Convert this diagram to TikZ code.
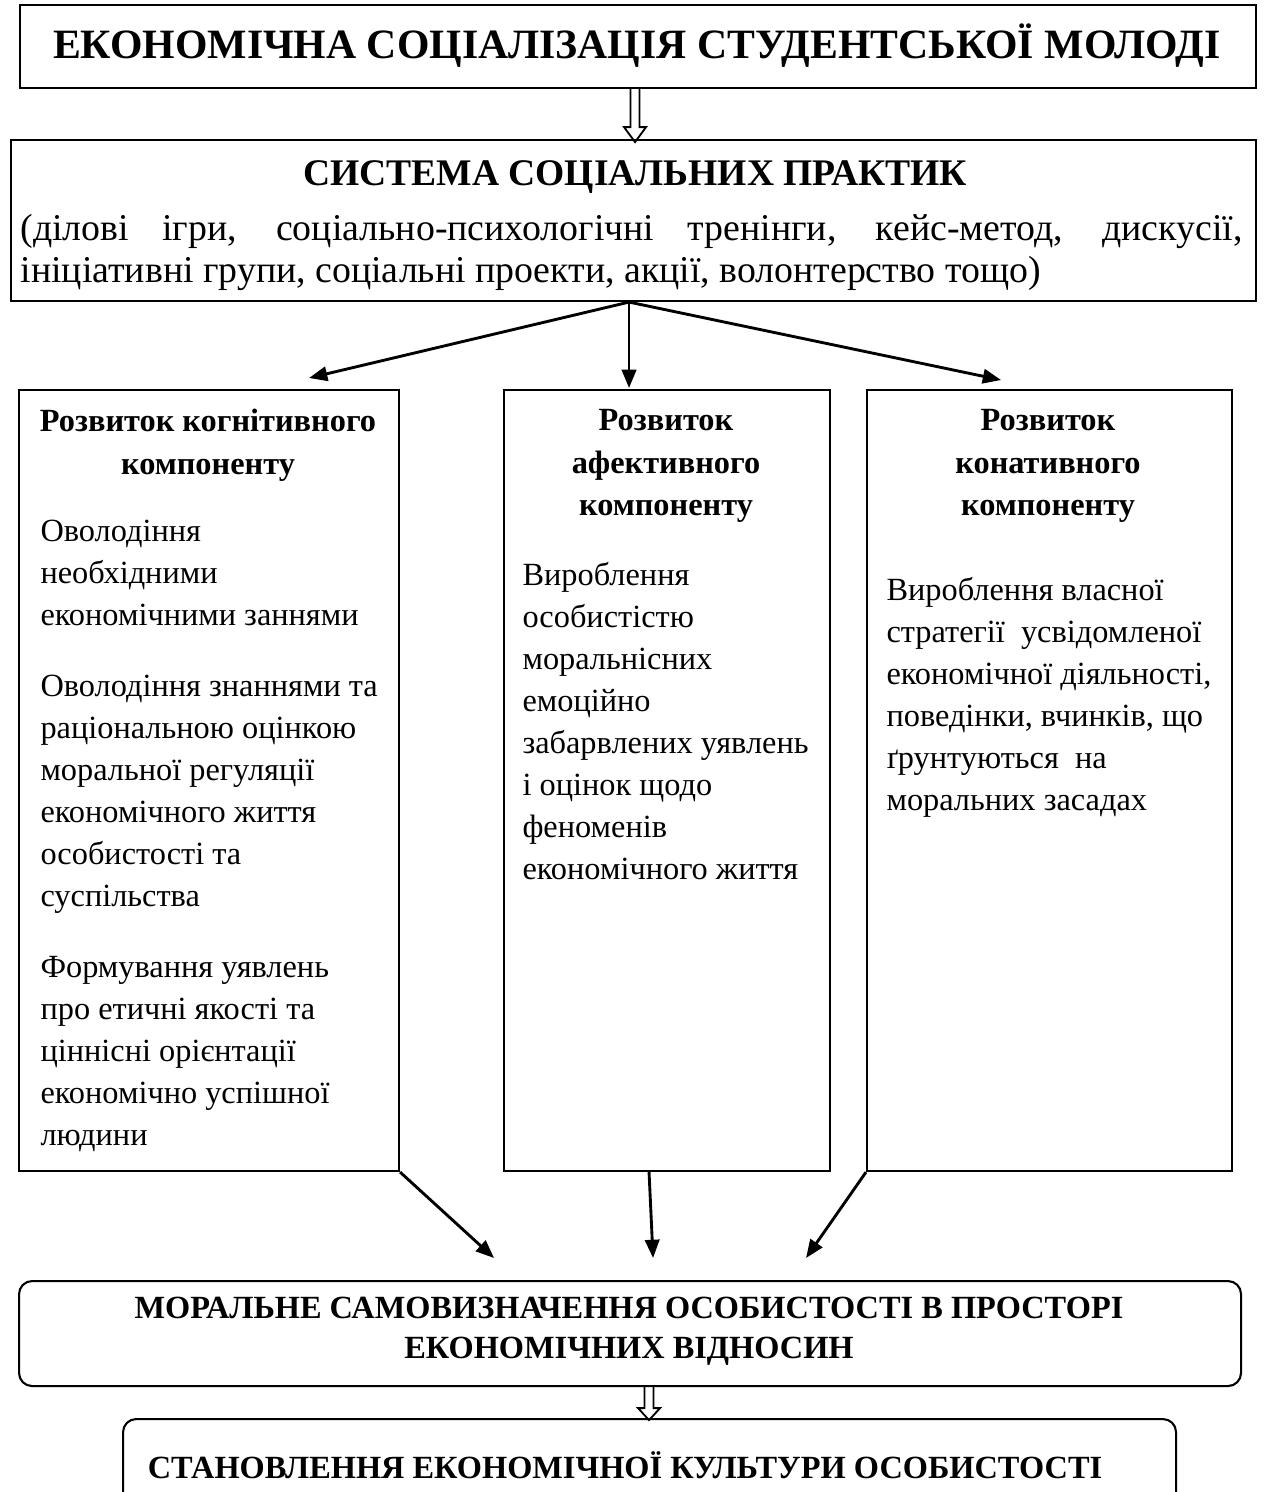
\documentclass[tikz,border=0pt]{standalone}
\usepackage{fontspec}
\setmainfont{Liberation Serif}
\usetikzlibrary{arrows.meta, positioning}

\newcommand{\pxu}{0.3833pt}

\begin{document}
\begin{tikzpicture}[x=0.3833pt, y=-0.3833pt,
    font=\fontsize{12.4}{16.1}\selectfont]

  \tikzset{
    framebox/.style 2 args={draw, line width=0.8pt, inner sep=0pt,
      anchor=north west, minimum width=#1*\pxu, minimum height=#2*\pxu},
    roundbox/.style 2 args={framebox={#1}{#2}, rounded corners=5pt},
    headtext/.style={font=\fontsize{12.4}{16.3}\selectfont\bfseries,
      align=center, inner sep=0pt, anchor=north,
      execute at begin node=\strut},
    bodytext/.style={align=left, inner sep=0pt, anchor=north west,
      execute at begin node=\strut},
    captext/.style={font=\fontsize{16}{18.4}\selectfont\bfseries,
      inner sep=0pt, anchor=base},
    arrowline/.style={-{Triangle[length=7pt, width=5.5pt]}, line width=1.1pt},
    pics/hollowdown/.style 2 args={code={
      \draw[line width=0.7pt] (-4.5,0) -- (-4.5,#1) -- (-11,#1)
        -- (0,#1+#2) -- (11,#1) -- (4.5,#1) -- (4.5,0);}}
  }

  \useasboundingbox (0,0) rectangle (1266,1492);
  \clip (0,0) rectangle (1266,1492);

  % top
  \node[framebox={1236}{83}] (title) at (19,4) {};
  \node[captext] (titletxt) at (637,58)
    {ЕКОНОМІЧНА СОЦІАЛІЗАЦІЯ СТУДЕНТСЬКОЇ МОЛОДІ};

  \node[framebox={1245}{161}] (practices) at (10,139) {};
  \node[captext, font=\fontsize{14.4}{16.6}\selectfont\bfseries]
    (practtitle) at (635,185) {СИСТЕМА СОЦІАЛЬНИХ ПРАКТИК};
  \node[inner sep=0pt, anchor=north west, text width=468.4pt,
    align=justify, font=\fontsize{14.5}{16.1}\selectfont] (practlist) at (20,210.6)
    {\noindent\strut(ділові ігри, соціально-психологічні тренінги,
     кейс-метод, дискусії,\linebreak ініціативні групи, соціальні
     проекти, акції, волонтерство тощо)};

  \pic at ([shift={(-3,0)}]title.south) {hollowdown={38}{15}};

  % three components
  \node[framebox={380}{781}] (cog) at (18,389) {};
  \node[framebox={326}{781}] (aff) at (503,389) {};
  \node[framebox={365}{781}] (con) at (866,389) {};

  \node[headtext] (coghead) at (208,409) {Розвиток когнітивного\\компоненту};
  \node[headtext] (affhead) at (666,409) {Розвиток\\афективного\\компоненту};
  \node[headtext] (conhead) at (1048,409) {Розвиток\\конативного\\компоненту};

  \node[bodytext] (cogbody) at (40,520)
    {Оволодіння\\необхідними\\економічними заннями\\[11pt]
     Оволодіння знаннями та\\раціональною оцінкою\\моральної регуляції\\
     економічного життя\\особистості та\\суспільства\\[11pt]
     Формування уявлень\\про етичні якості та\\ціннісні орієнтації\\
     економічно успішної\\людини};
  \node[bodytext] (affbody) at (522,562)
    {Вироблення\\особистістю\\моральнісних\\емоційно\\
     забарвлених уявлень\\і оцінок щодо\\феноменів\\економічного життя};
  \node[bodytext] (conbody) at (886,577)
    {Вироблення власної\\стратегії\ \ усвідомленої\\економічної діяльності,\\
     поведінки, вчинків, що\\ґрунтуються\ \ на\\моральних засадах};

  \coordinate (fork) at ([shift={(-4.5,0)}]practices.south);
  \draw[arrowline] (fork) -- ([shift={(100,-11)}]cog.north);
  \draw[arrowline] (fork) -- ([shift={(-38,-1)}]aff.north);
  \draw[arrowline] (fork) -- ([shift={(-48.5,-9)}]con.north);

  % bottom
  \node[roundbox={1222}{105}] (moral) at (18,1280) {};
  \node[font=\fontsize{12.4}{15}\selectfont\bfseries, align=center,
    inner sep=0pt, anchor=north, execute at begin node=\strut]
    (moraltxt) at (629,1297)
    {МОРАЛЬНЕ САМОВИЗНАЧЕННЯ ОСОБИСТОСТІ В ПРОСТОРІ\\ЕКОНОМІЧНИХ ВІДНОСИН};

  \draw[arrowline] (cog.south east) -- ([shift={(-136,-22)}]moral.north);
  \draw[arrowline] ([shift={(-18,0)}]aff.south) -- ([shift={(23,-22)}]moral.north);
  \draw[arrowline] (con.south west) -- ([shift={(176,-22)}]moral.north);

  \pic at ([shift={(19,0)}]moral.south) {hollowdown={21}{12}};

  \node[roundbox={1053}{120}] (culture) at (122,1418) {};
  \node[font=\fontsize{12.4}{15}\selectfont\bfseries, inner sep=0pt,
    anchor=base] (culturetxt) at (625,1478)
    {СТАНОВЛЕННЯ ЕКОНОМІЧНОЇ КУЛЬТУРИ ОСОБИСТОСТІ};

\end{tikzpicture}
\end{document}
